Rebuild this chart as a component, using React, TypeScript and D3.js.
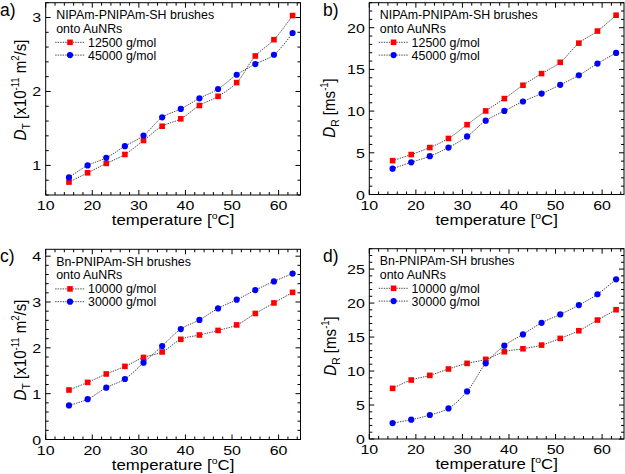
import React from 'react';
import * as d3 from 'd3';

const TEMPS = [15, 19, 23, 27, 31, 35, 39, 43, 47, 51, 55, 59, 63];
const A_12500 = [0.775, 0.9, 1.027, 1.148, 1.337, 1.53, 1.63, 1.81, 1.934, 2.12, 2.48, 2.7, 3.026];
const A_45000 = [0.838, 1.0, 1.103, 1.26, 1.404, 1.65, 1.764, 1.907, 2.033, 2.226, 2.37, 2.496, 2.79];
const B_12500 = [4.06, 4.79, 5.63, 6.72, 8.37, 10.02, 11.5, 13.1, 14.5, 15.85, 18.15, 19.6, 21.5];
const B_45000 = [3.1, 3.86, 4.59, 5.63, 6.96, 8.85, 10.02, 11.15, 12.1, 13.15, 14.3, 15.7, 16.98];
const C_10000 = [1.08, 1.246, 1.43, 1.595, 1.79, 1.91, 2.186, 2.28, 2.38, 2.5, 2.75, 2.98, 3.21];
const C_30000 = [0.743, 0.88, 1.13, 1.32, 1.676, 2.04, 2.41, 2.61, 2.86, 3.05, 3.26, 3.45, 3.62];
const D_10000 = [7.45, 8.68, 9.36, 10.3, 11.13, 11.72, 12.84, 13.28, 13.82, 14.8, 15.93, 17.5, 19.02];
const D_30000 = [2.35, 2.84, 3.53, 4.5, 7.0, 11.13, 13.73, 15.39, 17.1, 18.33, 19.7, 21.3, 23.5];

const X_TICKS = [10, 20, 30, 40, 50, 60];
const TITLE_NIPAM = ['NIPAm-PNIPAm-SH brushes', 'onto AuNRs'];
const TITLE_BN = ['Bn-PNIPAm-SH brushes', 'onto AuNRs'];
const NAMES_AB = ['12500 g/mol', '45000 g/mol'];
const NAMES_CD = ['10000 g/mol', '30000 g/mol'];

const FONT = '"Liberation Sans", Arial, Helvetica, sans-serif';
const RED = '#ff0000';
const BLUE = '#0000ff';
const TICK_FS = 16;
const LEG_FS = 12.4;
const TITLE_FS = 16.8;

type PanelCfg = {
  tag: string;
  left: number; right: number; top: number; bottom: number;
  yDomain: [number, number];
  yTicks: number[];
  yMinor: number;
  red: number[]; blue: number[];
  title: string[]; names: string[];
  yLabel: 'DT' | 'DR';
  yLabelPos: [number, number];
  tagPos: [number, number];
};

const PANELS: PanelCfg[] = [
  { tag: 'a)', left: 45.7, right: 300.5, top: 2.7, bottom: 195, yDomain: [0.6, 3.2], yTicks: [1, 2, 3], yMinor: 0.2,
    red: A_12500, blue: A_45000, title: TITLE_NIPAM, names: NAMES_AB, yLabel: 'DT', yLabelPos: [26, 90], tagPos: [0, 15.5] },
  { tag: 'b)', left: 369.3, right: 624, top: 2.7, bottom: 194.5, yDomain: [0, 23], yTicks: [0, 5, 10, 15, 20], yMinor: 1,
    red: B_12500, blue: B_45000, title: TITLE_NIPAM, names: NAMES_AB, yLabel: 'DR', yLabelPos: [335, 108], tagPos: [323, 15.5] },
  { tag: 'c)', left: 45.7, right: 300.5, top: 249.3, bottom: 439.5, yDomain: [0, 4.15], yTicks: [0, 1, 2, 3, 4], yMinor: 0.2,
    red: C_10000, blue: C_30000, title: TITLE_BN, names: NAMES_CD, yLabel: 'DT', yLabelPos: [26, 350], tagPos: [0, 262] },
  { tag: 'd)', left: 369.3, right: 624, top: 248.7, bottom: 439, yDomain: [0, 28], yTicks: [0, 5, 10, 15, 20, 25], yMinor: 1,
    red: D_10000, blue: D_30000, title: TITLE_BN, names: NAMES_CD, yLabel: 'DR', yLabelPos: [336, 346], tagPos: [323, 262] },
];

function range(a: number, b: number, step: number) {
  const out: number[] = [];
  for (let v = a; v <= b + 1e-9; v += step) out.push(Math.round(v * 1000) / 1000);
  return out;
}

function Marker({ kind, x, y }: { kind: 'sq' | 'ci'; x: number; y: number }) {
  if (kind === 'sq') return <rect x={x - 2.8} y={y - 2.8} width={5.6} height={5.6} fill={RED} />;
  return <circle cx={x} cy={y} r={3.1} fill={BLUE} />;
}

function Panel({ p }: { p: PanelCfg }) {
  const x = d3.scaleLinear().domain([10, 64.7]).range([p.left, p.right]);
  const y = d3.scaleLinear().domain(p.yDomain).range([p.bottom, p.top]);
  const line = d3.line<number>().x((_, i) => x(TEMPS[i])).y((d) => y(d)).curve(d3.curveCatmullRom.alpha(0.5));
  const xMinor = range(10, 64, 2).filter((v) => v % 10 !== 0);
  const yMinor = range(p.yDomain[0], p.yDomain[1], p.yMinor).filter((v) => !p.yTicks.some((t) => Math.abs(t - v) < 1e-6));
  const dash = '1.4 1.1';
  const lx0 = p.left + 9.5, lx1 = p.left + 39, lm = p.left + 24.3, lt = p.left + 42.3;
  return (
    <g fontFamily={FONT}>
      <path d={line(p.red) || ''} fill="none" stroke="#333" strokeWidth={0.9} strokeDasharray={dash} />
      <path d={line(p.blue) || ''} fill="none" stroke="#333" strokeWidth={0.9} strokeDasharray={dash} />
      {p.red.map((v, i) => <Marker key={'r' + i} kind="sq" x={x(TEMPS[i])} y={y(v)} />)}
      {p.blue.map((v, i) => <Marker key={'b' + i} kind="ci" x={x(TEMPS[i])} y={y(v)} />)}
      <rect x={p.left} y={p.top} width={p.right - p.left} height={p.bottom - p.top} fill="none" stroke="#000" strokeWidth={1} />
      {X_TICKS.map((t) => (
        <g key={'xt' + t}>
          <line x1={x(t)} x2={x(t)} y1={p.bottom} y2={p.bottom - 5} stroke="#000" />
          <line x1={x(t)} x2={x(t)} y1={p.top} y2={p.top + 5} stroke="#000" />
          <text transform={`translate(${x(t)},${p.bottom + 15}) scale(1,0.85)`} textAnchor="middle" fontSize={TICK_FS}>{t}</text>
        </g>
      ))}
      {xMinor.map((t) => (
        <g key={'xm' + t}>
          <line x1={x(t)} x2={x(t)} y1={p.bottom} y2={p.bottom - 3} stroke="#000" />
          <line x1={x(t)} x2={x(t)} y1={p.top} y2={p.top + 3} stroke="#000" />
        </g>
      ))}
      {p.yTicks.map((t) => (
        <g key={'yt' + t}>
          <line x1={p.left} x2={p.left + 5} y1={y(t)} y2={y(t)} stroke="#000" />
          <line x1={p.right} x2={p.right - 5} y1={y(t)} y2={y(t)} stroke="#000" />
          <text transform={`translate(${p.left - 4.5},${y(t) + 5})  scale(1,0.85)`} textAnchor="end" fontSize={TICK_FS}>{t}</text>
        </g>
      ))}
      {yMinor.map((t) => (
        <g key={'ym' + t}>
          <line x1={p.left} x2={p.left + 3} y1={y(t)} y2={y(t)} stroke="#000" />
          <line x1={p.right} x2={p.right - 3} y1={y(t)} y2={y(t)} stroke="#000" />
        </g>
      ))}
      <text transform={`translate(${(p.left + p.right) / 2},${p.bottom + 30}) scale(1,0.9)`} textAnchor="middle" fontSize={TITLE_FS}>
        temperature [<tspan fontSize={10.5} dy={-6.5}>o</tspan><tspan dy={6.5}>C]</tspan>
      </text>
      {p.yLabel === 'DT' ? (
        <text transform={`translate(${p.yLabelPos[0]},${p.yLabelPos[1]}) scale(1,0.9) rotate(-90)`} textAnchor="middle" fontSize={TITLE_FS}>
          <tspan fontStyle="italic">D</tspan>
          <tspan fontSize={11.5} dy={4}>T</tspan>
          <tspan dy={-4}> [x10</tspan>
          <tspan fontSize={10.5} dy={-7}>-11</tspan>
          <tspan dy={7}> m</tspan>
          <tspan fontSize={10.5} dy={-7}>2</tspan>
          <tspan dy={7}>/s]</tspan>
        </text>
      ) : (
        <text transform={`translate(${p.yLabelPos[0]},${p.yLabelPos[1]}) scale(1,0.9) rotate(-90)`} textAnchor="middle" fontSize={TITLE_FS}>
          <tspan fontStyle="italic">D</tspan>
          <tspan fontSize={11.5} dy={4}>R</tspan>
          <tspan dy={-4}> [ms</tspan>
          <tspan fontSize={10.5} dy={-7}>-1</tspan>
          <tspan dy={7}>]</tspan>
        </text>
      )}
      <text x={p.tagPos[0]} y={p.tagPos[1]} fontSize={17.5}>{p.tag}</text>
      <text x={p.left + 10.5} y={p.top + 16.3} fontSize={LEG_FS}>{p.title[0]}</text>
      <text x={p.left + 10.5} y={p.top + 30} fontSize={LEG_FS}>{p.title[1]}</text>
      {[0, 1].map((k) => {
        const ly = p.top + (k === 0 ? 39.6 : 52.4);
        return (
          <g key={'lg' + k}>
            <line x1={lx0} x2={lx1} y1={ly} y2={ly} stroke="#333" strokeWidth={0.9} strokeDasharray={dash} />
            <Marker kind={k === 0 ? 'sq' : 'ci'} x={lm} y={ly} />
            <text x={lt} y={ly + 4.4} fontSize={LEG_FS}>{p.names[k]}</text>
          </g>
        );
      })}
    </g>
  );
}

export default function App() {
  return (
    <svg width={625} height={474} style={{ position: 'absolute', left: 0, top: 0, background: '#fff' }}>
      <rect x={0} y={0} width={625} height={474} fill="#fff" />
      {PANELS.map((p) => <Panel key={p.tag} p={p} />)}
    </svg>
  );
}
